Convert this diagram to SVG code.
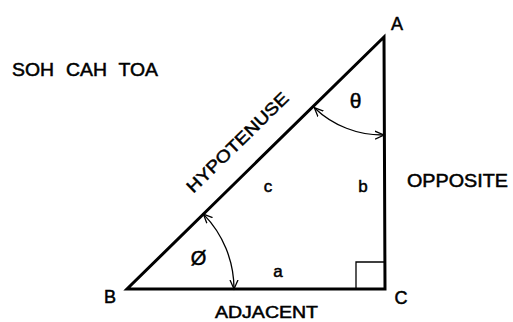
<svg xmlns="http://www.w3.org/2000/svg" width="513" height="322" viewBox="0 0 513 322">
<style>
.t{font-family:"Liberation Sans",Arial,sans-serif;fill:#000;stroke:#000;stroke-width:0.5}
.side{stroke:#000;stroke-width:3;fill:none;stroke-linecap:round;stroke-linejoin:miter}
.arc{stroke:#000;stroke-width:1.3;fill:none;marker-start:url(#ah);marker-end:url(#ah)}
</style>
<defs>
<marker id="ah" markerUnits="userSpaceOnUse" markerWidth="12" markerHeight="12" refX="9" refY="5" orient="auto-start-reverse" viewBox="0 0 12 10">
<path d="M0,1 L9,5 L0,9" fill="none" stroke="#000" stroke-width="1.3"/>
</marker>
</defs>
<rect width="513" height="322" fill="#fff"/>
<g id="title"><text class="t" x="12" y="76" font-size="18" textLength="146" lengthAdjust="spacingAndGlyphs" word-spacing="6">SOH CAH TOA</text></g>
<g id="triangle">
<polygon class="side" points="127,289 385,289 384,37"/>
<polyline points="356,289 356,262 385,262" fill="none" stroke="#000" stroke-width="1.3"/>
</g>
<g id="connectors">
<path class="arc" d="M314.3,107.7 A98 98 0 0 0 384,135"/>
<path class="arc" d="M203.4,214.1 A107 107 0 0 1 234,289"/>
</g>
<g id="vertexA"><text class="t" x="397" y="30" font-size="18" text-anchor="middle">A</text></g>
<g id="vertexB"><text class="t" x="110" y="303" font-size="18" text-anchor="middle">B</text></g>
<g id="vertexC"><text class="t" x="401" y="304" font-size="18" text-anchor="middle">C</text></g>
<g id="hypotenuse"><text class="t" transform="translate(237,142) rotate(-44.4)" x="0" y="6.5" font-size="17" text-anchor="middle" textLength="135" lengthAdjust="spacingAndGlyphs">HYPOTENUSE</text></g>
<g id="opposite"><text class="t" x="407" y="187" font-size="18" textLength="101" lengthAdjust="spacingAndGlyphs">OPPOSITE</text></g>
<g id="adjacent"><text class="t" x="215" y="318" font-size="16" textLength="103" lengthAdjust="spacingAndGlyphs">ADJACENT</text></g>
<g id="labels">
<text class="t" x="268" y="192" font-size="17" text-anchor="middle">c</text>
<text class="t" x="363" y="192" font-size="17" text-anchor="middle">b</text>
<text class="t" x="278" y="277" font-size="17" text-anchor="middle">a</text>
<text class="t" x="355.5" y="108" font-size="21" text-anchor="middle">θ</text>
<text class="t" x="198.5" y="265" font-size="20" text-anchor="middle">Ø</text>
</g>
</svg>
